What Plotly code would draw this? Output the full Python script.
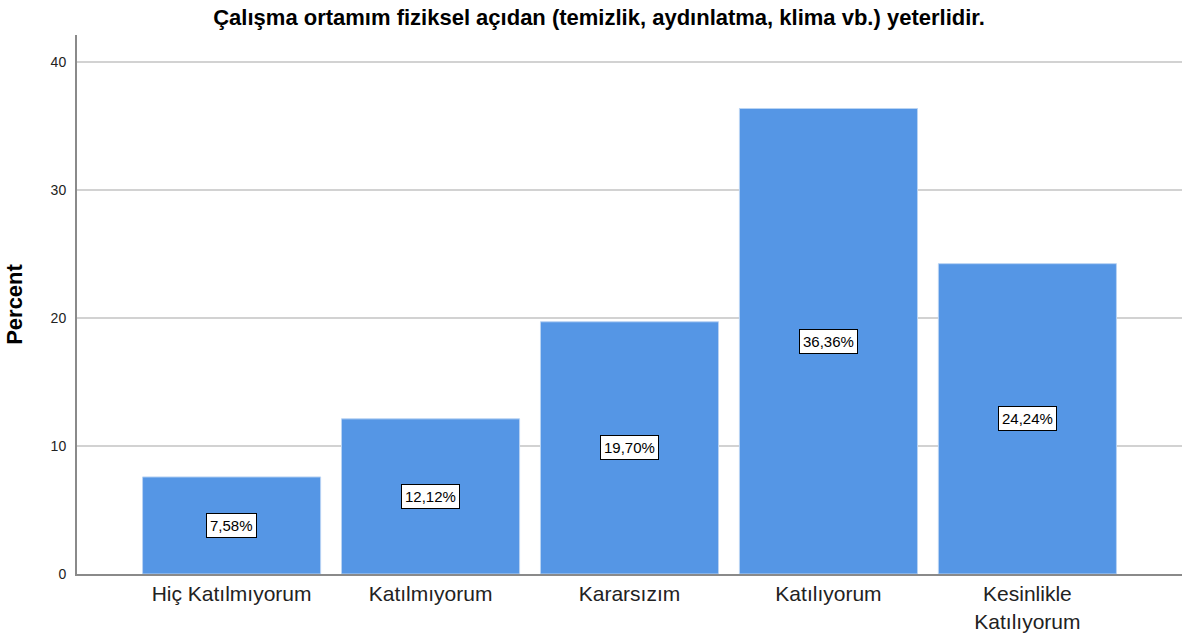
import plotly.graph_objects as go

# Survey item: responses as percentages
title_text = "Çalışma ortamım fiziksel açıdan (temizlik, aydınlatma, klima vb.) yeterlidir."
categories = ["Hiç Katılmıyorum", "Katılmıyorum", "Kararsızım", "Katılıyorum", "Kesinlikle<br>Katılıyorum"]
percents = [7.58, 12.12, 19.70, 36.36, 24.24]
y_ticks = [0, 10, 20, 30, 40]

FONT = "Arial, 'Liberation Sans', sans-serif"
BAR_COLOR = "#5596E5"

fig = go.Figure()
fig.add_trace(go.Bar(
    x=list(range(len(categories))),
    y=percents,
    marker=dict(color=BAR_COLOR, line=dict(color="#b9d3f3", width=1)),
    width=0.895,
    hoverinfo="skip",
))

# value labels in boxed callouts at mid-bar
for i, v in enumerate(percents):
    fig.add_annotation(
        x=i, y=v / 2, xref="x", yref="y",
        text=f"{v:.2f}".replace(".", ",") + "%",
        showarrow=False,
        font=dict(family=FONT, size=15, color="#000"),
        bgcolor="#ffffff", bordercolor="#000000", borderwidth=1, borderpad=3,
    )

fig.update_layout(
    width=1185, height=635,
    margin=dict(l=77, r=3, t=35, b=61, autoexpand=False),
    paper_bgcolor="white", plot_bgcolor="white",
    showlegend=False,
    title=dict(
        text=title_text,
        x=599 / 1185, xref="container", xanchor="center",
        y=1 - 17 / 635, yref="container", yanchor="middle",
        font=dict(family=FONT, size=22, color="#000", weight="bold"),
    ),
    xaxis=dict(
        range=[-0.777, 4.777],
        tickmode="array", tickvals=list(range(len(categories))), ticktext=categories,
        tickfont=dict(family=FONT, size=21, color="#222"),
        showgrid=False, zeroline=False,
        showline=True, linecolor="#8a8a8a", linewidth=2,
        ticks="", ticklabelstandoff=0, automargin=False,
    ),
    yaxis=dict(
        range=[0, 42.1],
        tickmode="array", tickvals=y_ticks,
        tickfont=dict(family=FONT, size=14, color="#222"),
        showgrid=True, gridcolor="#d2d2d2", gridwidth=2,
        zeroline=False,
        showline=True, linecolor="#8a8a8a", linewidth=2,
        ticks="", ticklabelstandoff=6, automargin=False,
        title=dict(text="Percent", standoff=22,
                   font=dict(family=FONT, size=22, color="#000", weight="bold")),
    ),
)

fig.write_html("out.html")
